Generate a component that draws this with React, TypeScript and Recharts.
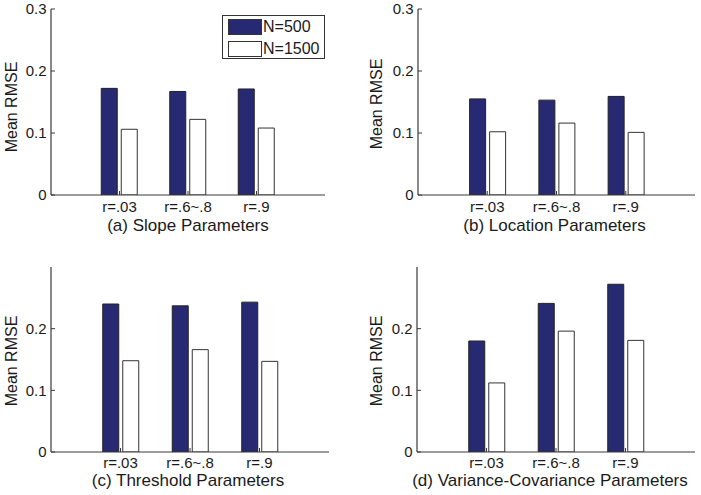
import React from 'react';
import { BarChart, Bar, XAxis, YAxis } from 'recharts';

const categories = ['r=.03', 'r=.6~.8', 'r=.9'];
const seriesNames = ['N=500', 'N=1500'];

const slopeN500 = [0.172, 0.167, 0.171];
const slopeN1500 = [0.106, 0.122, 0.108];
const locationN500 = [0.155, 0.153, 0.159];
const locationN1500 = [0.102, 0.116, 0.101];
const thresholdN500 = [0.240, 0.237, 0.243];
const thresholdN1500 = [0.148, 0.166, 0.147];
const varcovN500 = [0.180, 0.241, 0.272];
const varcovN1500 = [0.112, 0.196, 0.181];

const ticksTop = [0, 0.1, 0.2, 0.3];
const ticksBottom = [0, 0.1, 0.2];

const FONT = '"Liberation Sans", Arial, Helvetica, sans-serif';
const NAVY = '#272a73';
const AXIS = '#3a3a3a';
const TEXT = '#1a1a1a';

const build = (a: number[], b: number[]) =>
  categories.map((c, i) => ({ cat: c, n500: a[i], n1500: b[i] }));

const fmt = (v: number) => (v === 0 ? '0' : v.toFixed(1));

type PanelProps = {
  left: number;
  top: number;
  width: number;
  height: number;
  yAxisWidth: number;
  marginTop: number;
  marginRight: number;
  xAxisHeight: number;
  data: any[];
  ticks: number[];
  title: string;
  titleY: number;
  titleDx?: number;
  labelX: number;
  labelY: number;
  tickMarginX?: number;
  legend?: boolean;
};

const LegendBox = () => (
  <div
    style={{
      position: 'absolute',
      left: 222,
      top: 15,
      border: '1px solid #333',
      background: '#fff',
      width: 101,
      height: 42,
      boxSizing: 'content-box',
      fontFamily: FONT,
      fontSize: 16,
      color: TEXT,
    }}
  >
    {seriesNames.map((name, i) => (
      <div
        key={name}
        style={{
          position: 'absolute',
          left: 5,
          top: i === 0 ? 3 : 25,
          display: 'flex',
          alignItems: 'center',
          height: 16,
        }}
      >
        <div
          style={{
            width: 32,
            height: 14,
            background: i === 0 ? NAVY : '#fff',
            border: '1px solid #333',
          }}
        />
        <span style={{ marginLeft: 1, lineHeight: '16px' }}>{name}</span>
      </div>
    ))}
  </div>
);

const Panel = (p: PanelProps) => {
  const plotW = p.width - p.yAxisWidth - p.marginRight;
  const pad = plotW / 8;
  const plotCx = p.yAxisWidth + plotW / 2 + (p.titleDx || 0);
  return (
    <div style={{ position: 'absolute', left: p.left, top: p.top, width: p.width, height: p.height }}>
      <BarChart
        width={p.width}
        height={p.height}
        data={p.data}
        margin={{ top: p.marginTop, right: p.marginRight, left: 0, bottom: 0 }}
        barSize={16}
        barGap={4}
      >
        <XAxis
          dataKey="cat"
          type="category"
          height={p.xAxisHeight}
          padding={{ left: pad, right: pad }}
          axisLine={{ stroke: AXIS, strokeWidth: 1.2 }}
          tickLine={{ stroke: AXIS }}
          tickSize={-4}
          tickMargin={p.tickMarginX ?? 10}
          tick={{ fill: TEXT, fontSize: 15, fontFamily: FONT }}
          interval={0}
          label={{
            content: () => (
              <text
                x={plotCx}
                y={p.titleY}
                textAnchor="middle"
                dominantBaseline="central"
                fill={TEXT}
                fontSize={17}
                fontFamily={FONT}
              >
                {p.title}
              </text>
            ),
          }}
        />
        <YAxis
          type="number"
          width={p.yAxisWidth}
          domain={[0, 0.3]}
          ticks={p.ticks}
          tickFormatter={fmt}
          axisLine={{ stroke: AXIS, strokeWidth: 1.2 }}
          tickLine={{ stroke: AXIS }}
          tickSize={-4}
          tickMargin={8.5}
          tick={{ fill: TEXT, fontSize: 15, fontFamily: FONT }}
          allowDataOverflow
          label={{
            content: () => (
              <text
                x={p.labelX}
                y={p.labelY}
                transform={`rotate(-90 ${p.labelX} ${p.labelY})`}
                textAnchor="middle"
                dominantBaseline="central"
                fill={TEXT}
                fontSize={16}
                fontFamily={FONT}
              >
                Mean RMSE
              </text>
            ),
          }}
        />
        <Bar dataKey="n500" name={seriesNames[0]} fill={NAVY} stroke="#222" strokeWidth={1} isAnimationActive={false} />
        <Bar dataKey="n1500" name={seriesNames[1]} fill="#ffffff" stroke="#333" strokeWidth={1} isAnimationActive={false} />
      </BarChart>
      {p.legend && <LegendBox />}
    </div>
  );
};

export default function App() {
  return (
    <div style={{ position: 'absolute', left: 0, top: 0, width: 701, height: 495, background: '#fff' }}>
      <Panel
        left={0} top={0} width={350} height={240}
        yAxisWidth={51} marginTop={9} marginRight={25} xAxisHeight={45}
        data={build(slopeN500, slopeN1500)} ticks={ticksTop}
        title="(a) Slope Parameters" titleY={225}
        labelX={11} labelY={107} legend
      />
      <Panel
        left={350} top={0} width={351} height={240}
        yAxisWidth={68} marginTop={9} marginRight={6} xAxisHeight={45}
        data={build(locationN500, locationN1500)} ticks={ticksTop}
        title="(b) Location Parameters" titleY={225} titleDx={-2}
        labelX={26.5} labelY={104}
      />
      <Panel
        left={0} top={240} width={350} height={255}
        yAxisWidth={51} marginTop={27} marginRight={21} xAxisHeight={43}
        data={build(thresholdN500, thresholdN1500)} ticks={ticksBottom}
        title="(c) Threshold Parameters" titleY={240} titleDx={-2}
        labelX={11} labelY={121} tickMarginX={9}
      />
      <Panel
        left={350} top={240} width={351} height={255}
        yAxisWidth={67} marginTop={27} marginRight={6} xAxisHeight={43}
        data={build(varcovN500, varcovN1500)} ticks={ticksBottom}
        title="(d) Variance-Covariance Parameters" titleY={240} titleDx={-6}
        labelX={26.7} labelY={121} tickMarginX={9}
      />
    </div>
  );
}
